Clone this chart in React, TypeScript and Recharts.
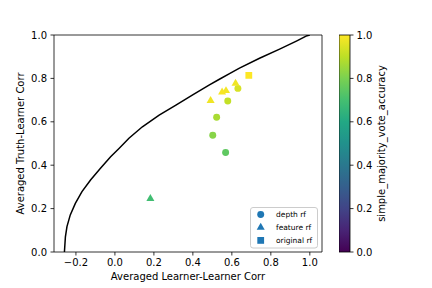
import React from 'react'
import {
  Bar,
  BarChart,
  Cell,
  Label,
  Legend,
  ReferenceLine,
  Scatter,
  ScatterChart,
  Symbols,
  XAxis,
  YAxis,
} from 'recharts'

// boundary curve
const boundX = [-0.259, -0.254, -0.246, -0.229, -0.203, -0.169, -0.125, -0.074, -0.022, 0.021, 0.072, 0.141, 0.227, 0.313, 0.399, 0.485, 0.536, 0.588, 0.639, 0.742, 0.845, 0.931, 0.986, 1.0]
const boundY = [0.0, 0.07, 0.117, 0.171, 0.224, 0.278, 0.332, 0.386, 0.439, 0.477, 0.524, 0.577, 0.631, 0.677, 0.724, 0.77, 0.796, 0.822, 0.847, 0.893, 0.935, 0.972, 0.997, 1.0]

const depthX = [0.631, 0.579, 0.522, 0.502, 0.568]
const depthY = [0.754, 0.696, 0.621, 0.538, 0.459]
const depthAcc = [0.94, 0.91, 0.87, 0.82, 0.75]

const featureX = [0.619, 0.57, 0.55, 0.491, 0.182]
const featureY = [0.777, 0.743, 0.737, 0.697, 0.246]
const featureAcc = [0.98, 0.985, 0.99, 0.98, 0.69]

const originalX = [0.687]
const originalY = [0.814]
const originalAcc = [1.0]

const xTicks = [-0.2, 0, 0.2, 0.4, 0.6, 0.8, 1.0]
const yTicks = [0, 0.2, 0.4, 0.6, 0.8, 1.0]
const cbTicks = [0, 0.2, 0.4, 0.6, 0.8, 1.0]

const legendNames = ['depth rf', 'feature rf', 'original rf']
const legendShapes = ['circle', 'triangle', 'square'] as const

const viridisStops = ['#440154', '#482475', '#414487', '#355f8d', '#2a788e', '#21918c', '#22a884', '#44bf70', '#7ad151', '#bddf26', '#fde725']

const FONT = '"DejaVu Sans", sans-serif'

// marker areas in px^2, per shape
const markerSize = { circle: 38, triangle: 28, square: 46 }

function hexToRgb(h: string) {
  return [parseInt(h.slice(1, 3), 16), parseInt(h.slice(3, 5), 16), parseInt(h.slice(5, 7), 16)]
}

function viridis(t: number) {
  const p = Math.max(0, Math.min(1, t)) * 10
  const i = Math.min(9, Math.floor(p))
  const f = p - i
  const a = hexToRgb(viridisStops[i])
  const b = hexToRgb(viridisStops[i + 1])
  const c = a.map((v, k) => Math.round(v + (b[k] - v) * f))
  return `rgb(${c[0]},${c[1]},${c[2]})`
}

const fmt = (v: number) => v.toFixed(1).replace('-', '\u2212')

const zip = (xs: number[], ys: number[], acc?: number[]) =>
  xs.map((x, i) => ({ x, y: ys[i], acc: acc ? acc[i] : 0 }))

const boundary = zip(boundX, boundY)
const depth = zip(depthX, depthY, depthAcc)
const feature = zip(featureX, featureY, featureAcc)
const original = zip(originalX, originalY, originalAcc)

const axisStroke = { stroke: '#000', strokeWidth: 0.8 }
const tickStyle = { fill: '#000', fontSize: 10, fontFamily: FONT }

const marker = (type: 'circle' | 'triangle' | 'square') => (p: any) => (
  <Symbols cx={p.cx} cy={p.cy} type={type} size={markerSize[type]} fill={p.fill} />
)

function LegendBox() {
  return (
    <svg width={69} height={42} style={{ display: 'block' }}>
      <rect x={0.5} y={0.5} width={67} height={40.5} rx={2.5} fill="#fff" fillOpacity={0.8} stroke="#cccccc" />
      {legendNames.map((name, i) => (
        <g key={name}>
          <Symbols cx={10.7} cy={7.4 + i * 13} type={legendShapes[i]} size={markerSize[legendShapes[i]]} fill="#1f77b4" />
          <text x={26} y={7.4 + i * 13 + 2.7} fontSize={7.5} fontFamily={FONT} fill="#000">
            {name}
          </text>
        </g>
      ))}
    </svg>
  )
}

export default function App() {
  return (
    <div style={{ position: 'absolute', left: 0, top: 0, width: 432, height: 288, background: '#fff', fontFamily: FONT }}>
      <div style={{ position: 'absolute', left: 0, top: 0 }}>
        <ScatterChart width={432} height={288} margin={{ top: 35, right: 110, bottom: 0, left: 0 }}>
          <XAxis
            type="number"
            dataKey="x"
            domain={[-0.3125, 1.0625]}
            ticks={xTicks}
            tickFormatter={fmt}
            height={36}
            tickSize={3.5}
            tickMargin={3.5}
            axisLine={axisStroke}
            tickLine={axisStroke}
            tick={tickStyle}
            allowDataOverflow
            interval={0}
          >
            <Label value="Averaged Learner-Learner Corr" position="insideBottom" offset={8.5} fill="#000" fontSize={10} fontFamily={FONT} />
          </XAxis>
          <YAxis
            type="number"
            dataKey="y"
            domain={[0, 1]}
            ticks={yTicks}
            tickFormatter={fmt}
            width={54}
            tickSize={3.5}
            tickMargin={3.5}
            axisLine={axisStroke}
            tickLine={axisStroke}
            tick={tickStyle}
            allowDataOverflow
            interval={0}
          >
            <Label value="Averaged Truth-Learner Corr" angle={-90} position="center" dx={-7} fill="#000" fontSize={10} fontFamily={FONT} />
          </YAxis>
          <ReferenceLine y={1} stroke="#000" strokeWidth={0.8} />
          <ReferenceLine x={1.0625} stroke="#000" strokeWidth={0.8} />
          <Scatter
            data={boundary}
            line={{ stroke: '#000', strokeWidth: 1.5 }}
            shape={() => <g />}
            legendType="none"
            isAnimationActive={false}
          />
          <Scatter data={depth} shape={marker('circle')} isAnimationActive={false}>
            {depth.map((d, i) => (
              <Cell key={i} fill={viridis(d.acc)} />
            ))}
          </Scatter>
          <Scatter data={feature} shape={marker('triangle')} isAnimationActive={false}>
            {feature.map((d, i) => (
              <Cell key={i} fill={viridis(d.acc)} />
            ))}
          </Scatter>
          <Scatter data={original} shape={marker('square')} isAnimationActive={false}>
            {original.map((d, i) => (
              <Cell key={i} fill={viridis(d.acc)} />
            ))}
          </Scatter>
          <Legend
            layout="vertical"
            align="center"
            verticalAlign="middle"
            wrapperStyle={{ left: 250, top: 207, width: 69, height: 42 }}
            content={() => <LegendBox />}
          />
        </ScatterChart>
      </div>
      <div style={{ position: 'absolute', left: 339, top: 0 }}>
        <BarChart
          width={93}
          height={288}
          data={[{ name: 'cb', v: 1 }]}
          margin={{ top: 35, right: 22, bottom: 36, left: 0 }}
          barCategoryGap={0}
        >
          <defs>
            <linearGradient id="viridis" x1="0" y1="1" x2="0" y2="0">
              {viridisStops.map((c, i) => (
                <stop key={i} offset={i / 10} stopColor={c} />
              ))}
            </linearGradient>
          </defs>
          <XAxis dataKey="name" hide />
          <YAxis
            orientation="right"
            type="number"
            domain={[0, 1]}
            ticks={cbTicks}
            tickFormatter={fmt}
            width={60}
            tickSize={3.5}
            tickMargin={3}
            axisLine={false}
            tickLine={axisStroke}
            tick={{ ...tickStyle, textAnchor: 'start' }}
            interval={0}
          >
            <Label value="simple_majority_vote_accuracy" angle={-90} position="center" dx={1} fill="#000" fontSize={10} fontFamily={FONT} />
          </YAxis>
          <Bar dataKey="v" fill="url(#viridis)" stroke="#000" strokeWidth={0.8} isAnimationActive={false} />
        </BarChart>
      </div>
    </div>
  )
}
